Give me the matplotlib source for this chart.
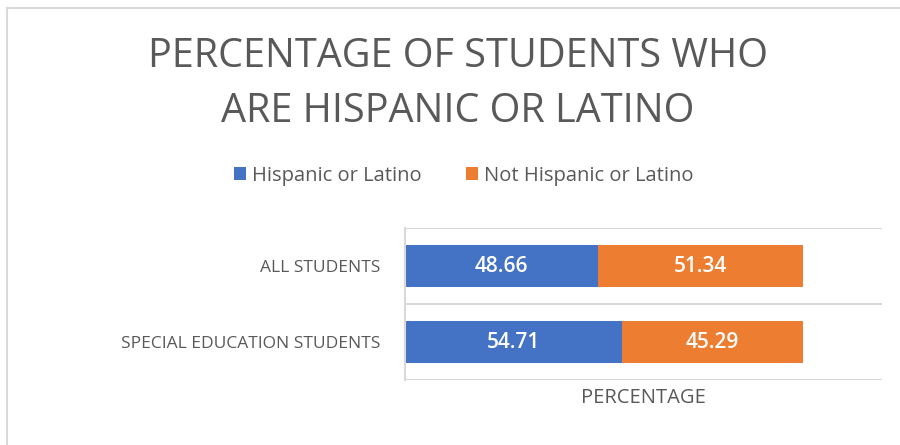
import matplotlib
matplotlib.use("Agg")
import matplotlib.pyplot as plt
from matplotlib.lines import Line2D

categories = ["ALL STUDENTS", "SPECIAL EDUCATION STUDENTS"]
hispanic = [48.66, 54.71]
not_hispanic = [51.34, 45.29]
series_names = ["Hispanic or Latino", "Not Hispanic or Latino"]

BLUE = "#4472C4"
ORANGE = "#ED7D31"
TEXT = "#595959"
GRID = "#D9D9D9"

plt.rcParams["font.family"] = ["Open Sans", "DejaVu Sans"]

fig = plt.figure(figsize=(9.0, 4.45), dpi=100)
ax = fig.add_axes([0.45, 0.146, 0.53, 0.3416])

y = list(range(len(categories)))
b1 = ax.barh(y, hispanic, height=0.55, color=BLUE, label=series_names[0])
b2 = ax.barh(y, not_hispanic, left=hispanic, height=0.55, color=ORANGE,
             label=series_names[1])
for bars in (b1, b2):
    ax.bar_label(bars, fmt="%.2f", label_type="center", color="white",
                 fontsize=15, fontweight="semibold")

ax.set_xlim(0, 120)
ax.set_ylim(len(categories) - 0.5, -0.5)
ax.set_yticks(y)
ax.set_yticklabels(categories, fontsize=12.5, color=TEXT)
ax.tick_params(axis="y", length=0, pad=18)
ax.set_xticks([])

# category separators
for b in [-0.5, 0.5, 1.5]:
    ax.axhline(b, color=GRID, lw=1.5, zorder=0)
for s in ["top", "right", "bottom"]:
    ax.spines[s].set_visible(False)
ax.spines["left"].set_color(GRID)
ax.spines["left"].set_linewidth(1.5)

ax.set_xlabel("PERCENTAGE", fontsize=14.5, color=TEXT, labelpad=6)

fig.text(0.509, 0.81, "PERCENTAGE OF STUDENTS WHO\nARE HISPANIC OR LATINO",
         ha="center", va="center", fontsize=28.5, color=TEXT,
         linespacing=1.47, fontweight="normal")

fig.legend(handles=[b1, b2], labels=series_names, loc="center",
           bbox_to_anchor=(0.515, 0.605), ncol=2, frameon=False,
           fontsize=14.5, labelcolor=TEXT, handlelength=0.6,
           handleheight=0.6, handletextpad=0.3, columnspacing=2.2)

# chart area border (top and left edges)
fig.add_artist(Line2D([0.008, 1.0], [0.981, 0.981], color=GRID, lw=1.5,
                      transform=fig.transFigure))
fig.add_artist(Line2D([0.008, 0.008], [0.0, 0.981], color=GRID, lw=1.5,
                      transform=fig.transFigure))

fig.savefig("out.png", dpi=100)
